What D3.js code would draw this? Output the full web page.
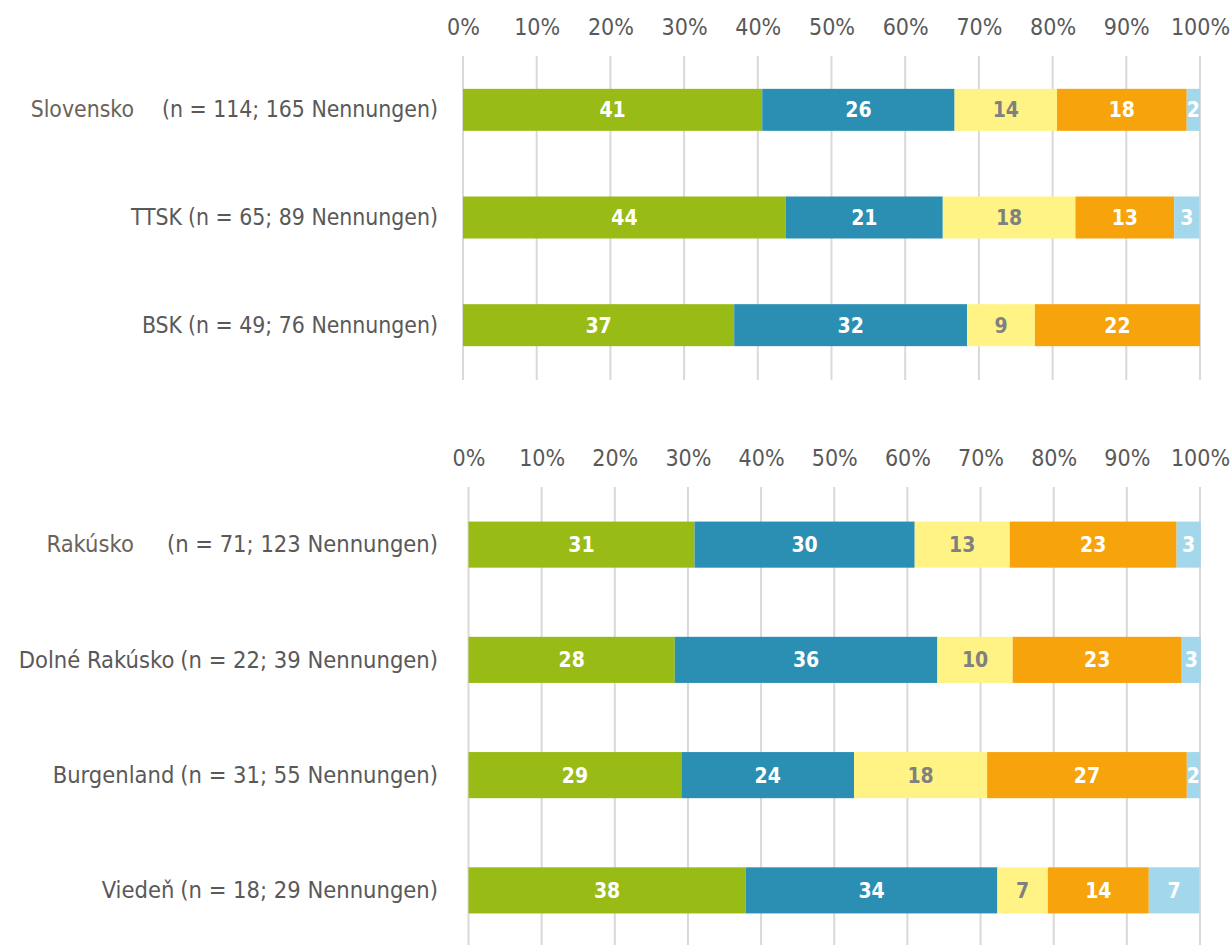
<!DOCTYPE html>
<html>
<head>
<meta charset="utf-8">
<script src="https://cdn.jsdelivr.net/npm/d3@7"></script>
<style>
  body { margin: 0; background: #fff; }
  svg text { font-family: "DejaVu Sans Condensed", "DejaVu Sans", sans-serif; font-stretch: condensed; }
</style>
</head>
<body>
<svg id="chart" width="1232" height="945"></svg>
<script>
"use strict";

// Answer categories (stack order, left to right)
var series = ["s1", "s2", "s3", "s4", "s5"];
var colors = ["#99bb15", "#2b8fb3", "#fff385", "#f7a30c", "#a3d7eb"];
var labelColors = ["#fff", "#fff", "#808080", "#fff", "#fff"];
var ticks = [0, 10, 20, 30, 40, 50, 60, 70, 80, 90, 100];

// Slovak panel
var skNames = ["Slovensko", "TTSK", "BSK"];
var skNotes = ["(n = 114; 165 Nennungen)", "(n = 65; 89 Nennungen)", "(n = 49; 76 Nennungen)"];
var skValues = [
    [40.6, 26.1, 13.9, 17.6, 1.8],
    [43.8, 21.3, 18.0, 13.4, 3.4],
    [36.8, 31.6, 9.2, 22.4, 0]
];

// Austrian panel
var atNames = ["Rakúsko", "Dolné Rakúsko", "Burgenland", "Viedeň"];
var atNotes = ["(n = 71; 123 Nennungen)", "(n = 22; 39 Nennungen)", "(n = 31; 55 Nennungen)", "(n = 18; 29 Nennungen)"];
var atValues = [
    [30.9, 30.1, 13.0, 22.8, 3.3],
    [28.2, 35.9, 10.3, 23.1, 2.6],
    [29.1, 23.6, 18.2, 27.3, 1.8],
    [37.9, 34.4, 6.9, 13.8, 6.9]
];

var svg = d3.select("#chart");

function drawPanel(cfg) {
    var g = svg.append("g");
    var x = d3.scaleLinear().domain([0, 100]).range([cfg.x0, cfg.x1]);
    var y = d3.scaleBand().domain(d3.range(cfg.names.length))
        .range([cfg.y0, cfg.y1])
        .paddingInner(cfg.pad).paddingOuter(cfg.pad / 2);

    // gridlines
    g.selectAll("line.grid").data(ticks).enter().append("line")
        .attr("x1", function(d){ return x(d); }).attr("x2", function(d){ return x(d); })
        .attr("y1", cfg.y0).attr("y2", cfg.gridBottom)
        .attr("stroke", "#d9d9d9").attr("stroke-width", 2);

    // top tick labels
    var axis = d3.axisTop(x).tickValues(ticks).tickSize(0).tickPadding(0)
        .tickFormat(function(d){ return d + "%"; });
    var ax = g.append("g").attr("transform", "translate(0," + cfg.tickY + ")").call(axis);
    ax.select(".domain").remove();
    ax.selectAll("text")
        .attr("dy", null)
        .style("font-family", "'Liberation Sans Narrow', 'DejaVu Sans Condensed', sans-serif")
        .style("font-size", "23px")
        .attr("fill", "#595959");

    // stacked rows
    var rows = cfg.values.map(function(v){
        var o = {};
        series.forEach(function(s, i){ o[s] = v[i]; });
        return o;
    });
    var stack = d3.stack().keys(series)(rows);

    stack.forEach(function(layer, si){
        var lg = g.append("g");
        lg.selectAll("rect").data(layer).enter().append("rect")
            .attr("x", function(d){ return x(d[0]); })
            .attr("width", function(d){ return x(d[1]) - x(d[0]); })
            .attr("y", function(d, i){ return y(i); })
            .attr("height", y.bandwidth())
            .attr("fill", colors[si]);
        layer.forEach(function(d, i){
            if (d[1] - d[0] <= 0) return;
            lg.append("text")
                .attr("x", (x(d[0]) + x(d[1])) / 2)
                .attr("y", y(i) + y.bandwidth() / 2)
                .attr("dy", "0.36em")
                .attr("text-anchor", "middle")
                .style("font-weight", "bold")
                .style("font-size", "21px")
                .attr("fill", labelColors[si])
                .text(d3.format(".0f")(d[1] - d[0]));
        });
    });

    // row labels
    cfg.names.forEach(function(name, i){
        var t = g.append("text")
            .attr("x", cfg.labelX)
            .attr("y", y(i) + y.bandwidth() / 2)
            .attr("dy", "0.33em")
            .attr("text-anchor", "end")
            .style("font-size", cfg.labelSize + "px")
            .attr("fill", "#595959");
        t.append("tspan").attr("fill", i === 0 ? "#6b6259" : "#595959").text(name);
        t.append("tspan").attr("dx", i === 0 ? cfg.firstGap : 6).text(cfg.notes[i]);
    });
}

drawPanel({
    names: skNames, notes: skNotes, values: skValues,
    x0: 463, x1: 1200, y0: 56, y1: 379, gridBottom: 380,
    pad: 0.61, tickY: 34.5, labelX: 438, firstGap: 28, labelSize: 22.8
});

drawPanel({
    names: atNames, notes: atNotes, values: atValues,
    x0: 468.5, x1: 1200, y0: 487, y1: 948, gridBottom: 945,
    pad: 0.6, tickY: 465.5, labelX: 438, firstGap: 33, labelSize: 23.5
});
</script>
</body>
</html>
